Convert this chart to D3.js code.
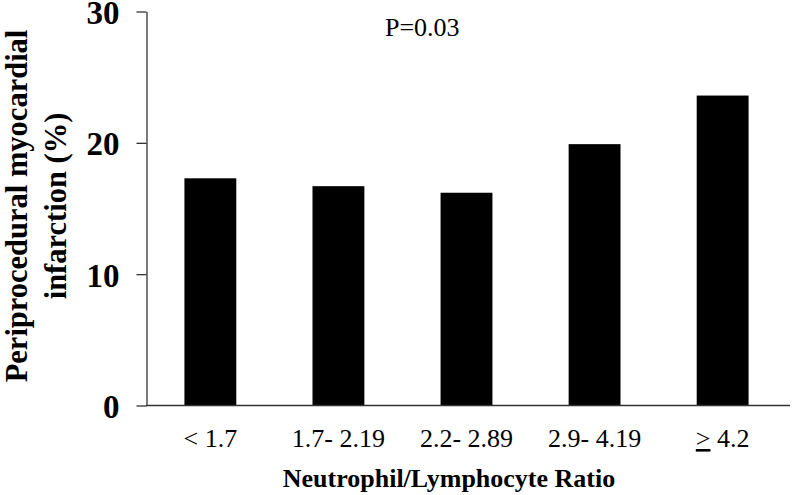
<!DOCTYPE html>
<html><head><meta charset="utf-8">
<script src="https://cdn.jsdelivr.net/npm/d3@7"></script>
<style>body{margin:0;background:#fff}svg{display:block}</style>
</head><body>
<script>
const categories = ["< 1.7", "1.7- 2.19", "2.2- 2.89", "2.9- 4.19", "\u2265 4.2"];
const values = [17.3, 16.7, 16.2, 19.9, 23.6];
const yTicks = [0, 10, 20, 30];
const pText = "P=0.03";
const xTitle = "Neutrophil/Lymphocyte Ratio";
const yTitle = ["Periprocedural myocardial", "infarction (%)"];

const W = 793, H = 495;
const svg = d3.select("body").append("svg").attr("width", W).attr("height", H);
const serif = "'Liberation Serif','Times New Roman',serif";

const x = d3.scaleBand().domain(categories).range([146, 787]).paddingInner(0.595).paddingOuter(0.3);
const y = d3.scaleLinear().domain([0, 30]).range([405.5, 11.5]);

// bars
svg.selectAll("rect.bar").data(values).join("rect")
  .attr("x", (d, i) => x(categories[i]))
  .attr("y", d => y(d))
  .attr("width", x.bandwidth())
  .attr("height", d => y(0) - y(d))
  .attr("fill", "#000");

// y axis
const yAxis = d3.axisLeft(y).tickValues(yTicks).tickSize(10).tickSizeOuter(0).tickPadding(17);
const gy = svg.append("g").attr("transform", "translate(146.5,0)").call(yAxis);
gy.select(".domain").attr("stroke", "#333").attr("stroke-width", 1.3);
gy.selectAll(".tick line").attr("stroke", "#333").attr("stroke-width", 1.3);
gy.selectAll(".tick text").attr("font-family", serif).attr("font-weight", "bold")
  .attr("font-size", 33).attr("fill", "#000").attr("dy", "0.36em");

// x axis line
svg.append("line").attr("x1", 146).attr("x2", 790).attr("y1", 405.5).attr("y2", 405.5)
  .attr("stroke", "#333").attr("stroke-width", 1.3);

// x category labels
const lab = svg.selectAll("text.cat").data(categories).join("text")
  .attr("class", "cat")
  .attr("x", d => x(d) + x.bandwidth() / 2)
  .attr("y", 447)
  .attr("text-anchor", "middle")
  .attr("font-family", serif).attr("font-size", 26).attr("fill", "#000");
lab.each(function(d) {
  const t = d3.select(this);
  if (d.startsWith("\u2265")) {
    t.append("tspan").attr("text-decoration", "underline").text(">");
    t.append("tspan").text(d.slice(1));
  } else t.text(d);
});

// x title
svg.append("text").attr("x", 449).attr("y", 487).attr("text-anchor", "middle")
  .attr("font-family", serif).attr("font-weight", "bold").attr("font-size", 26)
  .attr("fill", "#000").text(xTitle);

// y title
const yt = svg.append("text").attr("transform", "translate(0,206) rotate(-90)")
  .attr("text-anchor", "middle").attr("font-family", serif).attr("font-weight", "bold")
  .attr("font-size", 30.5).attr("fill", "#000");
yt.append("tspan").attr("x", 0).attr("y", 27).text(yTitle[0]);
yt.append("tspan").attr("x", 0).attr("y", 66).text(yTitle[1]);

// P value
svg.append("text").attr("x", 385).attr("y", 36).attr("font-family", serif)
  .attr("font-size", 26).attr("fill", "#000").text(pText);
</script>
</body></html>
